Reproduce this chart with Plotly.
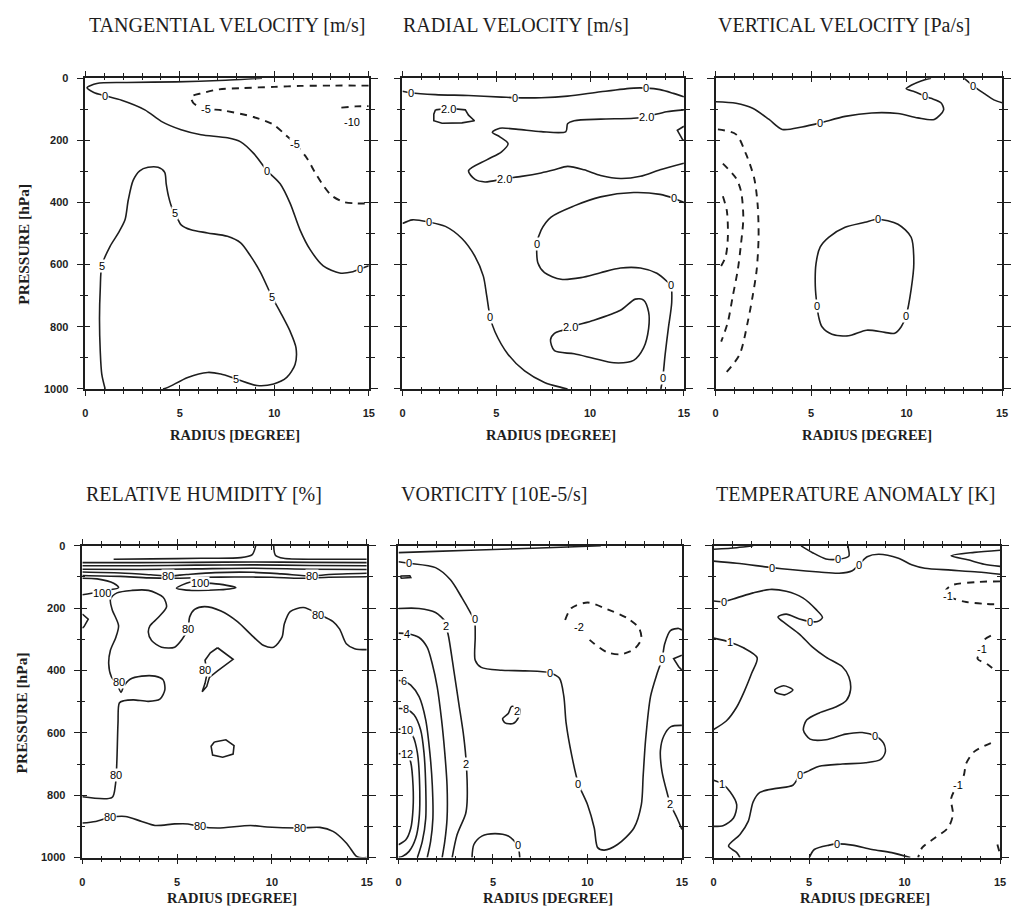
import plotly.graph_objects as go

# ---------------- data: contour lines digitised in (radius [deg], pressure [hPa]) ----------------
TITLES = ["TANGENTIAL VELOCITY [m/s]", "RADIAL VELOCITY [m/s]", "VERTICAL VELOCITY [Pa/s]",
          "RELATIVE HUMIDITY [%]", "VORTICITY [10E-5/s]", "TEMPERATURE ANOMALY [K]"]
X_TICKS = [0, 5, 10, 15]
Y_TICKS = [0, 200, 400, 600, 800, 1000]
X_TITLE = "RADIUS [DEGREE]"
Y_TITLE = "PRESSURE [hPa]"

# each contour: (style, radius list, pressure list); style: s=solid spline, d=dashed, l=solid polygon
TV_CONTOURS = [
    ("s", [9.35, 8.83, 7.43, 4.81, 2.19, 0.61, 0.09, 0.45, 1.05, 1.92, 3.15, 4.02, 5.07, 6.12, 7.52, 8.22, 8.92,
           9.62, 10.31, 10.84, 11.36, 11.89, 12.59, 13.46, 14.16, 14.51, 15],
          [0, 2, 7, 12, 14, 17, 31, 46, 57, 71, 102, 139, 166, 182, 192, 205, 243, 298, 340, 403, 488, 551, 604,
           627, 623, 615, 604]),
    ("d", [15, 13.1, 11.4, 10.0, 8.3, 7.08, 6.2, 5.6, 5.75, 6.4, 7.3, 8.9, 9.97, 10.58, 11.1, 11.71, 12.15,
           12.59, 13.02, 13.64, 14.34, 15],
          [24, 24, 25, 28, 32, 36, 48, 60, 82, 98, 104, 125, 150, 182, 211, 256, 303, 345, 377, 398, 403, 403]),
    ("d", [13.55, 14.3, 15], [95, 91, 90]),
    ("s", [1.05, 0.87, 0.79, 0.75, 0.79, 0.87, 1.31, 1.75, 2.1, 2.27, 2.53, 2.88, 3.32, 3.85, 4.2, 4.28, 4.41,
           4.58, 4.76, 5.07, 5.59, 6.47, 7.52, 8.22, 8.74, 9.27, 9.88, 10.31, 10.84, 11.15, 11.1, 10.66, 9.97,
           9.09, 7.99, 7.17, 6.47, 5.42, 4.37, 4.11],
          [1000, 952, 879, 773, 678, 604, 541, 498, 456, 393, 329, 298, 287, 287, 303, 340, 382, 416, 435, 472,
           488, 498, 509, 530, 572, 625, 704, 752, 815, 868, 921, 963, 984, 989, 968, 952, 947, 963, 995, 1000]),
]
TV_LABELS = [(1.05, 57, "0"), (9.62, 298, "0"), (14.51, 615, "0"), (6.4, 98, "-5"), (11.1, 211, "-5"),
             (14.1, 141, "-10"), (0.87, 604, "5"), (4.76, 435, "5"), (9.88, 704, "5"), (7.99, 968, "5")]

RV_CONTOURS = [
    ("s", [0, 0.44, 1.76, 3.52, 5.28, 5.99, 7.39, 8.8, 10.56, 12.32, 12.99, 13.73, 14.44, 15],
          [42, 47, 53, 56, 61, 63, 63, 58, 44, 32, 32, 37, 49, 60]),
    ("l", [1.76, 2.46, 3.35, 3.52, 3.84, 3.17, 2.11, 1.67, 1.67, 1.76],
          [102, 97, 102, 119, 137, 144, 145, 137, 116, 102]),
    ("s", [15, 14.08, 12.99, 12.32, 10.56, 9.15, 8.8, 8.71, 7.39, 6.16, 5.19, 4.79, 5.19, 5.63, 5.28, 4.49,
           3.52, 3.87, 4.4, 5.46, 6.34, 7.39, 8.1, 8.8, 9.68, 10.56, 11.62, 12.68, 13.73, 15],
          [102, 108, 124, 129, 132, 137, 147, 172, 172, 165, 161, 174, 189, 211, 237, 263, 298, 326, 334, 323,
           316, 305, 295, 284, 295, 313, 323, 316, 295, 274]),
    ("l", [15, 14.65, 14.93, 15], [155, 168, 198, 200]),
    ("s", [15, 14.47, 13.73, 12.32, 10.56, 9.15, 7.92, 7.39, 7.17, 7.22, 7.57, 8.45, 9.51, 10.56, 11.62, 12.68,
           13.56, 14.17, 14.3, 14.35, 14.17, 14.0, 13.87, 13.77],
          [400, 387, 374, 368, 382, 411, 447, 489, 534, 595, 626, 647, 642, 626, 611, 611, 628, 658, 666, 721,
           805, 889, 966, 1000]),
    ("s", [8.98, 10.21, 11.62, 12.41, 12.85, 13.12, 13.12, 12.85, 12.32, 11.27, 10.21, 9.15, 8.1, 7.89, 8.1,
           8.54, 8.98],
          [800, 779, 747, 711, 714, 753, 805, 868, 908, 916, 902, 887, 877, 842, 821, 811, 800]),
    ("s", [0, 0.53, 1.41, 2.29, 3.17, 3.87, 4.31, 4.49, 4.67, 4.93, 5.63, 6.51, 7.57, 8.45, 8.8],
          [468, 456, 463, 477, 516, 574, 637, 700, 768, 816, 889, 942, 979, 995, 1000]),
]
RV_LABELS = [(0.44, 47, "0"), (5.99, 63, "0"), (12.99, 32, "0"), (2.46, 98, "2.0"), (12.99, 124, "2.0"),
             (5.46, 323, "2.0"), (14.47, 387, "0"), (7.17, 534, "0"), (14.3, 666, "0"), (13.87, 966, "0"),
             (8.98, 800, "2.0"), (1.41, 463, "0"), (4.67, 768, "0")]

VV_CONTOURS = [
    ("s", [0, 1.07, 1.94, 2.8, 3.49, 4.53, 5.48, 6.78, 8.17, 9.55, 10.59, 11.45, 11.94, 11.8, 11.28, 10.97,
           10.42, 9.98, 10.24, 10.76, 11.28],
          [76, 81, 97, 133, 165, 157, 144, 123, 112, 114, 128, 133, 102, 79, 65, 58, 44, 34, 23, 9, 0]),
    ("s", [13.01, 13.49, 14.05, 14.57, 15], [0, 25, 49, 70, 79]),
    ("d", [0.12, 1.07, 1.59, 2.02, 2.2, 2.25, 2.15, 1.94, 1.68, 1.25, 0.47],
          [165, 181, 244, 322, 407, 512, 617, 701, 785, 890, 953]),
    ("d", [0.38, 1.07, 1.33, 1.45, 1.33, 1.16, 0.9, 0.64, 0.29],
          [275, 322, 364, 449, 533, 617, 701, 785, 848]),
    ("d", [0.38, 0.59, 0.64, 0.52, 0.17], [380, 428, 512, 575, 617]),
    ("s", [8.48, 9.55, 10.24, 10.38, 10.24, 9.98, 9.72, 9.38, 8.86, 7.91, 6.96, 6.09, 5.57, 5.4, 5.31, 5.22,
           5.26, 5.48, 5.92, 6.78, 7.82, 8.48],
          [454, 470, 512, 596, 680, 764, 800, 821, 818, 811, 829, 824, 800, 769, 732, 669, 596, 543, 512, 480,
           464, 454]),
]
VV_LABELS = [(5.48, 144, "0"), (10.97, 58, "0"), (13.49, 25, "0"), (8.48, 454, "0"), (9.98, 764, "0"),
             (5.31, 732, "0")]

RH_CONTOURS = [
    ("s", [1.65, 3.65, 6.26, 8.35, 8.96, 9.14], [43, 42, 40, 38, 28, 0]),
    ("s", [10.09, 10.18, 10.61, 12.35, 15], [0, 30, 40, 43, 43]),
    ("s", [0, 3, 6, 9, 12, 15], [54, 54, 53, 52, 53, 54]),
    ("s", [0, 3, 6, 9, 12, 15], [64, 64, 62, 61, 63, 64]),
    ("s", [0, 3, 6, 9, 12, 15], [75, 76, 74, 72, 75, 76]),
    ("s", [0, 2, 3.6, 4.5, 5.5, 7, 9, 10.5, 12.1, 13, 15], [84, 87, 93, 97, 92, 86, 85, 90, 97, 92, 88]),
    ("s", [0, 2, 3.5, 5, 6.5, 8, 10, 11.5, 13, 15], [95, 98, 103, 104, 101, 100, 101, 104, 101, 99]),
    ("s", [4.96, 5.66, 6.18, 7.22, 8.09, 7.22, 5.48, 4.96], [136, 117, 118, 123, 134, 141, 142, 136]),
    ("s", [0, 0.78, 1.65, 1.91, 1.48, 0.78, 0], [104, 106, 120, 134, 141, 149, 157]),
    ("s", [0, 1.57, 1.74, 1.79, 1.83, 1.88, 1.95, 2.18, 2.7, 3.48, 4.09, 4.35, 4.26, 3.83, 3.13, 2.52, 2.18,
           2.04, 1.83, 1.53, 1.39, 1.48, 1.77, 1.91, 1.57, 1.48, 1.83, 2.61, 3.48, 4.26, 4.44, 4.0, 3.57, 3.48,
           3.65, 4.18, 4.87, 5.27, 5.57, 5.66, 5.92, 6.44, 7.31, 8.18, 8.87, 9.57, 10.09, 10.53, 10.65, 10.96,
           11.66, 12.44, 13.22, 13.57, 13.92, 14.36, 15],
          [805, 807, 768, 734, 673, 568, 504, 497, 494, 499, 492, 462, 430, 418, 418, 428, 451, 470, 444, 420,
           378, 335, 293, 256, 204, 172, 151, 143, 143, 165, 196, 230, 256, 277, 304, 325, 325, 299, 267, 228,
           204, 195, 209, 243, 283, 320, 325, 293, 251, 211, 198, 219, 243, 267, 314, 330, 333]),
    ("l", [0, 0.31, 0.09, 0], [219, 235, 259, 264]),
    ("l", [7.13, 7.95, 7.13, 6.7, 6.56, 6.32, 6.47, 6.58, 6.47, 6.75, 7.13],
          [327, 364, 401, 422, 451, 468, 441, 409, 367, 343, 327]),
    ("l", [6.96, 7.57, 8.0, 7.95, 7.4, 6.87, 6.79, 6.96], [629, 622, 641, 668, 678, 671, 643, 629]),
    ("s", [0, 0.7, 1.48, 2.26, 3.13, 3.83, 4.87, 5.57, 6.18, 7.13, 8.87, 9.74, 11.48, 12.53, 13.22, 13.92,
           14.44, 14.62, 15],
          [889, 884, 871, 868, 884, 897, 892, 892, 900, 905, 897, 902, 905, 903, 916, 953, 995, 1000, 1000]),
]
RH_LABELS = [(4.5, 97, "80"), (12.1, 97, "80"), (6.18, 119, "100"), (1.04, 152, "100"), (1.79, 734, "80"),
             (1.91, 436, "80"), (5.57, 267, "80"), (12.44, 222, "80"), (6.49, 399, "80"), (1.48, 871, "80"),
             (6.18, 900, "80"), (11.48, 905, "80")]

VO_CONTOURS = [
    ("s", [0, 1.96, 5.46, 8.96, 10.71], [22, 18, 11, 4, 0]),
    ("s", [0, 0.53, 1.96, 2.75, 3.36, 3.85, 4.03, 4.06, 4.06, 4.38, 5.46, 6.69, 8.0, 8.52, 8.75, 8.87, 9.17,
           9.52, 10.01, 10.36, 10.54, 10.89, 11.59, 12.46, 12.85, 12.95, 13.08, 13.34, 13.69, 13.95, 14.09,
           14.39, 14.83, 15],
          [51, 56, 70, 109, 167, 219, 240, 293, 367, 390, 399, 401, 407, 425, 483, 568, 673, 763, 831, 905, 968,
           976, 958, 905, 831, 736, 620, 483, 409, 362, 314, 272, 265, 270]),
    ("l", [15, 14.56, 14.83, 15], [351, 362, 388, 399]),
    ("l", [0.1, 0.6, 0.65, 0.15, 0.1], [97, 96, 102, 104, 97]),
    ("s", [0, 1.09, 1.96, 2.45, 2.52, 2.66, 2.93, 3.19, 3.45, 3.59, 3.63, 3.55, 3.1, 2.84],
          [201, 201, 214, 241, 257, 294, 400, 505, 611, 700, 822, 860, 927, 1000]),
    ("s", [0, 0.47, 1.09, 1.52, 1.79, 2.05, 2.28, 2.45, 2.57, 2.57, 2.45, 2.31],
          [280, 282, 294, 326, 379, 453, 558, 664, 769, 875, 948, 1000]),
    ("s", [0, 0.3, 0.65, 1.09, 1.44, 1.66, 1.79, 1.82, 1.7, 1.52],
          [432, 434, 447, 484, 558, 664, 769, 875, 948, 1000]),
    ("s", [0, 0.42, 0.82, 1.17, 1.35, 1.44, 1.44, 1.26, 1.0], [522, 524, 542, 590, 664, 769, 875, 948, 1000]),
    ("s", [0, 0.47, 0.77, 1.0, 1.12, 1.09, 0.91, 0.56, 0.21, 0],
          [588, 590, 611, 664, 769, 875, 938, 980, 996, 999]),
    ("s", [0, 0.47, 0.65, 0.77, 0.77, 0.65, 0.39, 0], [667, 669, 695, 769, 843, 906, 943, 959]),
    ("s", [5.99, 6.42, 6.34, 6.07, 5.64, 5.51, 5.81, 5.99], [515, 523, 552, 570, 568, 554, 538, 515]),
    ("s", [3.89, 3.99, 4.41, 5.11, 5.81, 6.3, 6.42], [1000, 958, 931, 923, 931, 960, 1000]),
    ("d", [8.82, 9.14, 10.01, 11.06, 12.11, 12.73, 12.85, 12.46, 11.76, 11.06, 10.36, 10.01],
          [238, 200, 182, 204, 232, 264, 299, 332, 348, 342, 314, 296]),
    ("s", [15, 14.42, 14.04, 13.86, 13.95, 14.25, 14.39, 14.74, 15], [576, 580, 610, 657, 726, 800, 829, 873, 910]),
]
VO_LABELS = [(0.53, 56, "0"), (4.03, 236, "0"), (8.0, 407, "0"), (9.52, 763, "0"), (13.95, 362, "0"),
             (6.3, 960, "0"), (2.52, 257, "2"), (3.59, 700, "2"), (0.47, 282, "4"), (0.3, 434, "6"),
             (0.42, 524, "8"), (0.47, 590, "10"), (0.47, 669, "12"), (6.25, 531, "2"), (9.57, 259, "-2"),
             (14.39, 829, "2")]

TA_CONTOURS = [
    ("s", [0, 1.21, 2.07], [11, 6, 0]),
    ("s", [4.58, 5.18, 5.88, 6.53, 7.08, 7.05, 7.03], [0, 22, 42, 43, 33, 6, 0]),
    ("s", [0, 1.21, 3.06, 4.15, 5.53, 6.57, 7.26, 7.6, 8.04, 8.64, 9.68, 10.37, 11.06, 12.44, 13.82, 15],
          [49, 56, 70, 77, 84, 88, 80, 61, 35, 27, 40, 61, 72, 78, 84, 91]),
    ("s", [15, 13.65, 12.44, 13.31, 14.17, 15], [14, 21, 32, 45, 59, 66]),
    ("d", [15, 13.82, 12.44, 12.13, 12.27, 13.13, 14.17, 15], [114, 116, 127, 146, 161, 179, 186, 188]),
    ("d", [14.52, 14.17, 14.08, 13.82, 14.34, 14.77], [288, 302, 330, 362, 380, 401]),
    ("s", [0, 0.52, 1.21, 2.07, 2.94, 3.8, 4.67, 5.36, 5.7, 5.44, 5.05, 4.49, 3.8, 3.37, 3.8, 4.49, 5.18, 5.88,
           6.74, 7.08, 7.17, 6.95, 6.39, 5.53, 4.87, 4.7, 5.05, 5.88, 6.91, 7.78, 8.47, 8.9, 8.99, 8.73, 7.95,
           6.74, 5.53, 5.01, 4.54, 4.15, 3.28, 2.42, 2.07, 1.81, 1.38, 0.78, 1.21, 1.38],
          [177, 179, 167, 151, 140, 146, 167, 204, 230, 243, 243, 235, 219, 228, 251, 283, 325, 357, 388, 420,
           462, 496, 517, 536, 559, 591, 620, 622, 604, 599, 610, 633, 662, 686, 696, 700, 707, 721, 734, 768,
           778, 791, 821, 884, 926, 963, 984, 1000]),
    ("s", [0, 0.86, 1.56, 2.28, 1.99, 1.64, 1.21, 0.66, 0], [296, 309, 327, 359, 409, 462, 517, 562, 589]),
    ("s", [3.2, 3.66, 4.15, 3.72, 3.25, 3.2], [462, 449, 462, 478, 470, 462]),
    ("s", [0, 0.43, 0.86, 1.21, 1.04, 0.52, 0], [752, 763, 789, 831, 873, 897, 900]),
    ("s", [5.01, 5.27, 6.05, 6.48, 7.26, 8.29, 9.33, 10.3], [1000, 974, 960, 956, 960, 974, 984, 1000]),
    ("d", [14.52, 13.65, 13.22, 13.1, 12.79, 12.44, 12.53, 12.27, 11.58, 10.92, 10.71],
          [633, 660, 699, 736, 766, 810, 863, 905, 937, 968, 1000]),
    ("d", [14.86, 15], [958, 989]),
]
TA_LABELS = [(6.53, 43, "0"), (3.06, 70, "0"), (7.6, 61, "0"), (12.27, 161, "-1"), (14.08, 330, "-1"),
             (0.52, 179, "0"), (5.05, 243, "0"), (8.47, 610, "0"), (4.54, 734, "0"), (0.86, 309, "1"),
             (0.43, 763, "1"), (6.48, 956, "0"), (12.79, 766, "-1")]

PANEL_CONTOURS = [TV_CONTOURS, RV_CONTOURS, VV_CONTOURS, RH_CONTOURS, VO_CONTOURS, TA_CONTOURS]
PANEL_LABELS = [TV_LABELS, RV_LABELS, VV_LABELS, RH_LABELS, VO_LABELS, TA_LABELS]

# ---------------- layout geometry (pixels in the 1020x916 window) ----------------
PAGE_PAD = 8                      # default body margin of the html page
W, H = 1020 - 2 * PAGE_PAD, 916 - 2 * PAGE_PAD
COLS_PX = [(83, 369), (403, 687), (719, 1008), (80, 367), (399, 685), (717, 1006)]
ROWS_PX = [(73, 388)] * 3 + [(547, 863)] * 3
TITLE_PX = [(85, 19), (402, 19), (719, 19), (82, 494), (400, 494), (717, 494)]


def px(x):
    return (x - PAGE_PAD) / W


def py(y):
    return 1 - (y - PAGE_PAD) / H


INK = "#1e1e1e"
TICK_FONT = dict(family="Liberation Sans", size=11, color=INK, weight="bold")

fig = go.Figure()
layout = dict(width=W, height=H, margin=dict(l=0, r=0, t=0, b=0, pad=0), autosize=False,
              paper_bgcolor="white", plot_bgcolor="white", showlegend=False)
annotations = []

for i in range(6):
    n = i + 1
    sfx = "" if n == 1 else str(n)
    ov = str(n + 6)
    (x0, x1), (y0, y1) = COLS_PX[i], ROWS_PX[i]
    xdom = [px(x0), px(x1)]
    ydom = [py(y1), py(y0)]
    common_x = dict(range=[0, 15], showgrid=False, zeroline=False, showline=True, linecolor=INK, linewidth=1.5,
                    tickcolor=INK, tickwidth=1.2, mirror="allticks", tickvals=X_TICKS)
    common_y = dict(range=[1000, 0], showgrid=False, zeroline=False, showline=True, linecolor=INK, linewidth=1.5,
                    tickcolor=INK, tickwidth=1.2, mirror="allticks", tickvals=Y_TICKS)
    layout["xaxis" + sfx] = dict(common_x, domain=xdom, anchor="y" + sfx, ticks="outside", ticklen=5,
                                 minor=dict(dtick=1, ticks="outside", ticklen=3, tickcolor=INK, tickwidth=1),
                                 tickfont=TICK_FONT, ticklabelstandoff=8)
    layout["yaxis" + sfx] = dict(common_y, domain=ydom, anchor="x" + sfx, ticks="outside", ticklen=7,
                                 minor=dict(dtick=100, ticks="outside", ticklen=4, tickcolor=INK, tickwidth=1),
                                 tickfont=TICK_FONT, showticklabels=(i % 3 == 0), ticklabelstandoff=6)
    # overlay axes give the ticks their inner half, so they cross the frame
    layout["xaxis" + ov] = dict(common_x, overlaying="x" + sfx, anchor="y" + sfx, ticks="inside", ticklen=4,
                                minor=dict(dtick=1, ticks="inside", ticklen=2, tickcolor=INK, tickwidth=1),
                                showticklabels=False)
    layout["yaxis" + ov] = dict(common_y, overlaying="y" + sfx, anchor="x" + sfx, ticks="inside", ticklen=5,
                                minor=dict(dtick=100, ticks="inside", ticklen=3, tickcolor=INK, tickwidth=1),
                                showticklabels=False)
    fig.add_trace(go.Scatter(x=[], y=[], xaxis="x" + ov, yaxis="y" + ov, hoverinfo="skip"))

    for style, rr, pp in PANEL_CONTOURS[i]:
        line = dict(color=INK, width=1.6)
        if style == "d":
            line.update(dash="7px,6px", width=1.9, shape="spline", smoothing=0.8)
        elif style == "s":
            line.update(shape="spline", smoothing=0.8)
        else:
            line.update(shape="linear")
        fig.add_trace(go.Scatter(x=rr, y=pp, mode="lines", line=line, xaxis="x" + sfx, yaxis="y" + sfx,
                                 hoverinfo="skip"))

    for r, p, txt in PANEL_LABELS[i]:
        annotations.append(dict(x=r, y=p, xref="x" + sfx, yref="y" + sfx, text=txt, showarrow=False,
                                bgcolor="white", borderpad=0,
                                font=dict(family="Liberation Sans", size=11, color="#000000")))

    tx, ty = TITLE_PX[i]
    annotations.append(dict(x=px(tx), y=py(ty), xref="paper", yref="paper", text=TITLES[i],
                            xanchor="left", yanchor="middle", showarrow=False,
                            font=dict(family="Liberation Serif", size=20, color=INK)))
    xt_y = 435 if i < 3 else 904
    annotations.append(dict(x=px((x0 + x1) / 2 + 8), y=py(xt_y), xref="paper", yref="paper", text=X_TITLE,
                            xanchor="center", yanchor="middle", showarrow=False,
                            font=dict(family="Liberation Serif", size=14.5, color=INK, weight="bold")))
    if i % 3 == 0:
        yt = 241 if i == 0 else 716
        annotations.append(dict(x=px(21 if i == 0 else 19), y=py(yt), xref="paper", yref="paper", text=Y_TITLE,
                                textangle=-90, xanchor="center", yanchor="middle", showarrow=False,
                                font=dict(family="Liberation Serif", size=15.5, color=INK, weight="bold")))

layout["annotations"] = annotations
fig.update_layout(**layout)
fig.write_html("out.html")
